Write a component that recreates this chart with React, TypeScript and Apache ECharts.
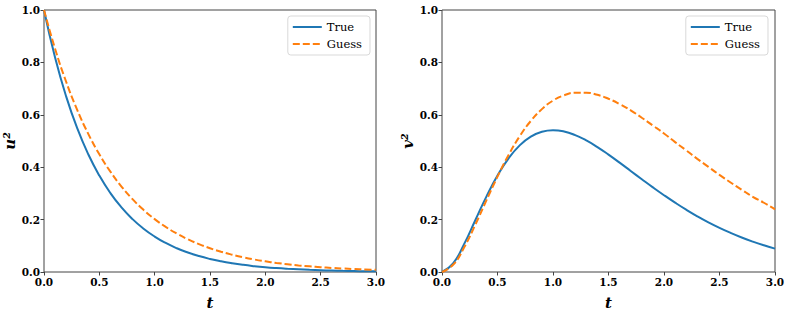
import React, { useEffect, useRef } from "react";
import * as echarts from "echarts";

const tValues = [0, 0.1, 0.2, 0.3, 0.4, 0.5, 0.6, 0.7, 0.8, 0.9, 1.0, 1.1, 1.2, 1.3, 1.4, 1.5, 1.6, 1.7, 1.8, 1.9, 2.0, 2.1, 2.2, 2.3, 2.4, 2.5, 2.6, 2.7, 2.8, 2.9, 3.0];

const uTrue = [1, 0.8187, 0.6703, 0.5488, 0.4493, 0.3679, 0.3012, 0.2466, 0.2019, 0.1653, 0.1353, 0.1108, 0.0907, 0.0743, 0.0608, 0.0498, 0.0408, 0.0334, 0.0273, 0.0224, 0.0183, 0.015, 0.0123, 0.0101, 0.0082, 0.0067, 0.0055, 0.0045, 0.0037, 0.003, 0.0025];
const uGuess = [1, 0.8521, 0.7261, 0.6188, 0.5273, 0.4493, 0.3829, 0.3263, 0.278, 0.2369, 0.2019, 0.172, 0.1466, 0.1249, 0.1065, 0.0907, 0.0773, 0.0659, 0.0561, 0.0478, 0.0408, 0.0347, 0.0296, 0.0252, 0.0215, 0.0183, 0.0156, 0.0133, 0.0113, 0.0097, 0.0082];

const vTrue = [0, 0.0327, 0.1072, 0.1976, 0.2876, 0.3679, 0.4337, 0.4833, 0.5169, 0.5356, 0.5413, 0.5363, 0.5224, 0.5023, 0.4768, 0.4481, 0.4174, 0.3857, 0.3541, 0.323, 0.2931, 0.2646, 0.2377, 0.2127, 0.1896, 0.1684, 0.1492, 0.1317, 0.116, 0.1019, 0.0892];
const vGuess = [0, 0.0276, 0.0941, 0.1804, 0.2734, 0.3639, 0.4466, 0.518, 0.5765, 0.6217, 0.6542, 0.6743, 0.684, 0.6839, 0.6763, 0.6612, 0.6412, 0.6171, 0.5889, 0.5591, 0.5288, 0.4958, 0.4642, 0.4319, 0.4012, 0.3706, 0.3417, 0.3141, 0.287, 0.2643, 0.2391];

const seriesNames = ["True", "Guess"];
const xAxisName = "t";
const yAxisNames = ["u²", "v²"];

const FONT = "'DejaVu Serif', serif";
const AXIS_COLOR = "#444";

function pairs(xs: number[], ys: number[]) {
  return xs.map((x, i) => [x, ys[i]]);
}

export default function App() {
  const ref = useRef<HTMLDivElement>(null);
  useEffect(() => {
    if (!ref.current) return;
    const chart = echarts.init(ref.current, undefined, { renderer: "svg" });
    const xAxisBase = (gridIndex: number) => ({
      type: "value",
      gridIndex,
      min: 0,
      max: 3,
      interval: 0.5,
      name: xAxisName,
      nameLocation: "middle",
      nameGap: 23,
      nameTextStyle: { fontFamily: FONT, fontStyle: "italic", fontWeight: "bold", fontSize: 15, color: "#000" },
      axisLine: { show: false },
      axisTick: { show: true, length: 3.5, lineStyle: { color: AXIS_COLOR } },
      splitLine: { show: false },
      axisLabel: {
        fontFamily: FONT, fontWeight: "bold", fontSize: 10.5, color: "#000", margin: 4,
        formatter: (v: number) => v.toFixed(1),
      },
    });
    const yAxisBase = (gridIndex: number) => ({
      type: "value",
      gridIndex,
      min: 0,
      max: 1,
      interval: 0.2,
      name: yAxisNames[gridIndex],
      nameLocation: "middle",
      nameGap: 25,
      nameTextStyle: { fontFamily: FONT, fontStyle: "italic", fontWeight: "bold", fontSize: 15, color: "#000" },
      axisLine: { show: false },
      axisTick: { show: true, length: 3.5, lineStyle: { color: AXIS_COLOR } },
      splitLine: { show: false },
      axisLabel: {
        fontFamily: FONT, fontWeight: "bold", fontSize: 10.5, color: "#000", margin: 4,
        formatter: (v: number) => v.toFixed(1),
      },
    });
    const lineSeries = (name: string, idx: number, data: number[][], dashed: boolean) => ({
      type: "line",
      name,
      xAxisIndex: idx,
      yAxisIndex: idx,
      data,
      smooth: true,
      showSymbol: false,
      symbol: "none",
      lineStyle: dashed
        ? { color: "#ff7f0e", width: 2, type: [7, 3] }
        : { color: "#1f77b4", width: 2, type: "solid" },
      itemStyle: { color: dashed ? "#ff7f0e" : "#1f77b4" },
      z: dashed ? 3 : 2,
    });
    const legendBase = (right: number) => ({
      right,
      top: 16,
      orient: "vertical",
      data: seriesNames,
      backgroundColor: "#fff",
      borderColor: "#d9d9d9",
      borderWidth: 1,
      borderRadius: 3,
      padding: [5, 8, 5, 4],
      itemWidth: 29,
      itemHeight: 12,
      itemGap: 5,
      selectedMode: false,
      itemStyle: { opacity: 0 },
      textStyle: { fontFamily: FONT, fontSize: 11.5, color: "#000" },
    });
    chart.setOption({
      animation: false,
      backgroundColor: "#fff",
      grid: [
        { left: 44, right: 413, top: 10, bottom: 38, show: true, borderColor: AXIS_COLOR, borderWidth: 1, backgroundColor: "transparent" },
        { left: 442, right: 14, top: 10, bottom: 38, show: true, borderColor: AXIS_COLOR, borderWidth: 1, backgroundColor: "transparent" },
      ],
      legend: [legendBase(419), legendBase(21)],
      xAxis: [xAxisBase(0), xAxisBase(1)],
      yAxis: [yAxisBase(0), yAxisBase(1)],
      series: [
        lineSeries(seriesNames[0], 0, pairs(tValues, uTrue), false),
        lineSeries(seriesNames[1], 0, pairs(tValues, uGuess), true),
        lineSeries(seriesNames[0], 1, pairs(tValues, vTrue), false),
        lineSeries(seriesNames[1], 1, pairs(tValues, vGuess), true),
      ],
    });
    return () => chart.dispose();
  }, []);
  return <div ref={ref} style={{ width: 789, height: 315, position: "absolute", left: 0, top: 0 }} />;
}
